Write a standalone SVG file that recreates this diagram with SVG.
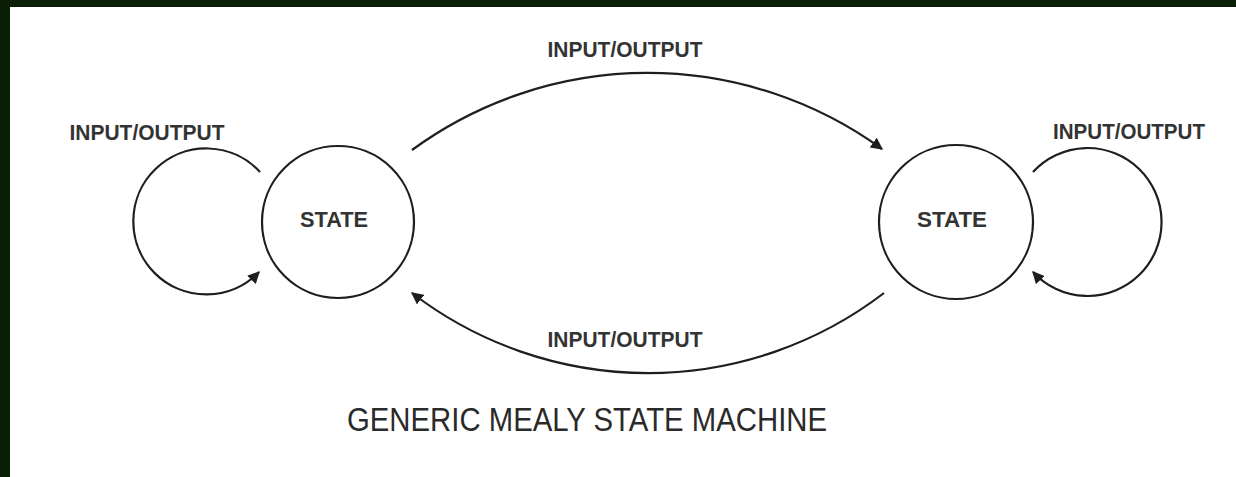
<svg xmlns="http://www.w3.org/2000/svg" width="1236" height="477" viewBox="0 0 1236 477">
  <style>
    .node { fill: none; stroke: #1e1e1e; stroke-width: 2.2; }
    .edge { fill: none; stroke: #1e1e1e; stroke-width: 2.2; }
    .lbl { font-family: "Liberation Sans", Arial, sans-serif; font-weight: bold; font-size: 22px; fill: #333333; text-anchor: middle; }
    .title { font-family: "Liberation Sans", Arial, sans-serif; font-size: 34px; fill: #2a2a2a; text-anchor: middle; }
  </style>
  <defs>
    <marker id="arrow" viewBox="0 0 10 10" refX="9" refY="5" markerWidth="5.5" markerHeight="5.5" markerUnits="strokeWidth" orient="auto">
      <path d="M0,0 L10,5 L0,10 Z" fill="#1e1e1e"/>
    </marker>
  </defs>
  <rect x="0" y="0" width="1236" height="477" fill="#ffffff"/>
  <rect x="0" y="0" width="1236" height="7" fill="#0b1f07"/>
  <rect x="0" y="0" width="10" height="477" fill="#0b1f07"/>

  <g id="connectors">
    <path class="edge" d="M 260 172 A 73 73 0 1 0 259 272" marker-end="url(#arrow)"/>
    <path class="edge" d="M 1033 172 A 74 74 0 1 1 1033 272" marker-end="url(#arrow)"/>
    <path class="edge" d="M 412 150 A 399 399 0 0 1 882 149" marker-end="url(#arrow)"/>
    <path class="edge" d="M 884 293 A 388 388 0 0 1 412 293" marker-end="url(#arrow)"/>
    <text class="lbl" x="147" y="140" textLength="155" lengthAdjust="spacingAndGlyphs">INPUT/OUTPUT</text>
    <text class="lbl" x="625" y="57" textLength="155" lengthAdjust="spacingAndGlyphs">INPUT/OUTPUT</text>
    <text class="lbl" x="1129" y="139" textLength="152" lengthAdjust="spacingAndGlyphs">INPUT/OUTPUT</text>
    <text class="lbl" x="625" y="347" textLength="155" lengthAdjust="spacingAndGlyphs">INPUT/OUTPUT</text>
  </g>

  <g id="state-left">
    <circle class="node" cx="338" cy="222" r="76"/>
    <text class="lbl" x="334" y="227" textLength="68" lengthAdjust="spacingAndGlyphs">STATE</text>
  </g>

  <g id="state-right">
    <circle class="node" cx="956" cy="222" r="77"/>
    <text class="lbl" x="952" y="227" textLength="70" lengthAdjust="spacingAndGlyphs">STATE</text>
  </g>

  <text class="title" x="587" y="431" textLength="480" lengthAdjust="spacingAndGlyphs">GENERIC MEALY STATE MACHINE</text>
</svg>
